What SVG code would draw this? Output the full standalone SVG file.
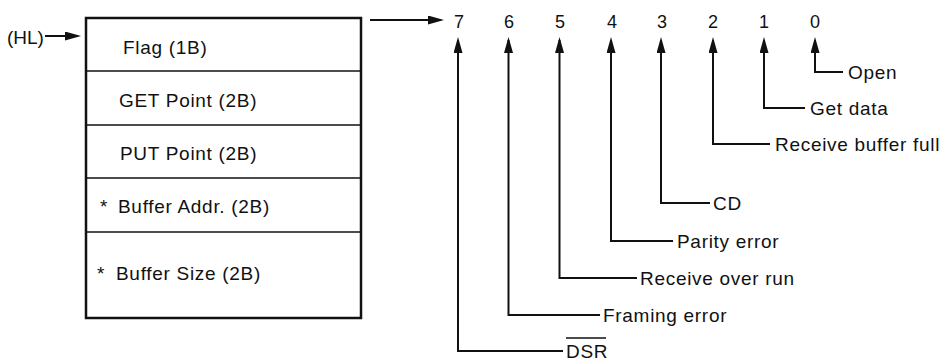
<svg xmlns="http://www.w3.org/2000/svg" width="949" height="361" viewBox="0 0 949 361">
  <style>
    .lbl { font-family: "Liberation Sans", Arial, Helvetica, sans-serif; font-size: 19px; letter-spacing: 0.7px; fill: #111; }
    .bit { font-family: "Liberation Sans", Arial, Helvetica, sans-serif; font-size: 18px; fill: #111; text-anchor: middle; }
    .frame { fill: #fff; stroke: #111; stroke-width: 2.5; }
    .div { stroke: #111; stroke-width: 1.6; fill: none; }
    .wire { stroke: #111; stroke-width: 2; fill: none; stroke-linejoin: miter; stroke-linecap: butt; }
  </style>
  <defs>
    <marker id="arrow" viewBox="0 0 16 9" refX="13" refY="4.5" markerWidth="16" markerHeight="9" markerUnits="userSpaceOnUse" orient="auto">
      <path d="M0,0 L16,4.5 L0,9 z" fill="#111"/>
    </marker>
  </defs>
  <rect width="949" height="361" fill="#fff"/>

  <!-- pointer into the control block -->
  <g id="hl-pointer">
    <text class="lbl" x="7" y="44" style="letter-spacing:0">(HL)</text>
  </g>

  <!-- control block table -->
  <g id="control-block">
    <rect class="frame" x="86" y="18" width="275" height="300"/>
    <line class="div" x1="86" y1="71" x2="361" y2="71"/>
    <line class="div" x1="86" y1="125" x2="361" y2="125"/>
    <line class="div" x1="86" y1="178" x2="361" y2="178"/>
    <line class="div" x1="86" y1="232" x2="361" y2="232"/>
  </g>
  <g id="row-flag"><text class="lbl" x="123" y="54">Flag (1B)</text></g>
  <g id="row-get"><text class="lbl" x="119" y="107">GET Point (2B)</text></g>
  <g id="row-put"><text class="lbl" x="120" y="160">PUT Point (2B)</text></g>
  <g id="row-addr"><text class="lbl" x="100" y="213">*<tspan x="118">Buffer Addr. (2B)</tspan></text></g>
  <g id="row-size"><text class="lbl" x="97" y="280">*<tspan x="116">Buffer Size (2B)</tspan></text></g>

  <!-- flag byte bit numbers -->
  <g id="bits">
    <text class="bit" x="459" y="28">7</text>
    <text class="bit" x="509" y="28">6</text>
    <text class="bit" x="560" y="28">5</text>
    <text class="bit" x="612" y="28">4</text>
    <text class="bit" x="662" y="28">3</text>
    <text class="bit" x="713" y="28">2</text>
    <text class="bit" x="764" y="28">1</text>
    <text class="bit" x="815" y="28">0</text>
  </g>

  <!-- bit meanings -->
  <g id="bit0"><text class="lbl" x="848" y="79">Open</text></g>
  <g id="bit1"><text class="lbl" x="810" y="115">Get data</text></g>
  <g id="bit2"><text class="lbl" x="775" y="151">Receive buffer<tspan dx="6">full</tspan></text></g>
  <g id="bit3"><text class="lbl" x="713" y="210">CD</text></g>
  <g id="bit4"><text class="lbl" x="677" y="248">Parity error</text></g>
  <g id="bit5"><text class="lbl" x="640" y="285">Receive over run</text></g>
  <g id="bit6"><text class="lbl" x="603" y="322">Framing error</text></g>
  <g id="bit7">
    <text class="lbl" x="566" y="357.5">DSR</text>
    <line x1="566" y1="338" x2="606" y2="338" stroke="#111" stroke-width="1.5"/>
  </g>

  <!-- connectors -->
  <g id="connectors">
    <path class="wire" d="M45,36 H78" marker-end="url(#arrow)"/>
    <path class="wire" d="M370,20 H441" marker-end="url(#arrow)"/>
    <path class="wire" d="M843,72 H815 V40" marker-end="url(#arrow)"/>
    <path class="wire" d="M805,108 H764 V40" marker-end="url(#arrow)"/>
    <path class="wire" d="M770,144 H713 V40" marker-end="url(#arrow)"/>
    <path class="wire" d="M710,203 H661 V40" marker-end="url(#arrow)"/>
    <path class="wire" d="M673,241 H611 V40" marker-end="url(#arrow)"/>
    <path class="wire" d="M637,278 H559.5 V40" marker-end="url(#arrow)"/>
    <path class="wire" d="M600,315 H508.5 V40" marker-end="url(#arrow)"/>
    <path class="wire" d="M563,351 H458 V40" marker-end="url(#arrow)"/>
  </g>
</svg>
